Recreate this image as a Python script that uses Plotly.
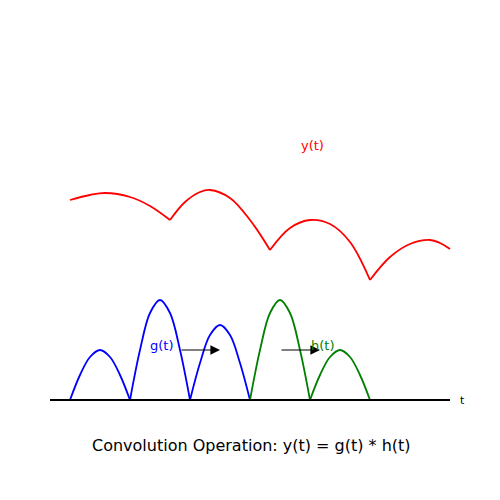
import plotly.graph_objects as go

# pixel-like coordinates: x = horizontal position, y = height above page bottom (500 - pixel y)
g_segments = [
    ([70, 80, 90, 100, 110, 120, 130], [100, 125, 143, 150, 143, 125, 100]),
    ([130, 140, 150, 160, 170, 180, 190], [100, 150, 187, 200, 187, 150, 100]),
    ([190, 200, 210, 220, 230, 240, 250], [100, 137, 165, 175, 165, 137, 100]),
]
h_segments = [
    ([250, 260, 270, 280, 290, 300, 310], [100, 150, 187, 200, 187, 150, 100]),
    ([310, 320, 330, 340, 350, 360, 370], [100, 125, 143, 150, 143, 125, 100]),
]
y_segments = [
    ([70, 90, 105, 130, 150, 170], [300, 305, 307, 303, 294, 280]),
    ([170, 185, 200, 210, 230, 250, 270], [280, 298, 308, 310, 302, 280, 250]),
    ([270, 290, 310, 330, 350, 370], [250, 272, 280, 276, 258, 220]),
    ([370, 390, 410, 430, 440, 450], [220, 243, 256, 260, 257, 251]),
]
baseline_x = [50, 450]
baseline_y = [100, 100]

fig = go.Figure()
for xs, ys in g_segments:
    fig.add_trace(go.Scatter(x=xs, y=ys, mode="lines", line=dict(color="blue", width=1.8, shape="spline")))
for xs, ys in h_segments:
    fig.add_trace(go.Scatter(x=xs, y=ys, mode="lines", line=dict(color="green", width=1.8, shape="spline")))
for xs, ys in y_segments:
    fig.add_trace(go.Scatter(x=xs, y=ys, mode="lines", line=dict(color="red", width=1.8, shape="spline")))
fig.add_trace(go.Scatter(x=baseline_x, y=baseline_y, mode="lines", line=dict(color="black", width=1.8)))

for x0, x1 in [(180, 220), (280, 320)]:
    fig.add_annotation(x=x1, y=150, ax=x0, ay=150, xref="x", yref="y", axref="x", ayref="y",
                       showarrow=True, arrowhead=2, arrowsize=1.6, arrowwidth=1.2, arrowcolor="black", text="")

texts = [
    (162, 155, "g(t)", "blue", 13),
    (322, 155, "h(t)", "green", 13),
    (312, 355, "y(t)", "red", 13),
    (462, 100, "t", "black", 11),
    (251, 55, "Convolution Operation: y(t) = g(t) * h(t)", "black", 16),
]
for x, y, t, c, s in texts:
    fig.add_annotation(x=x, y=y, text=t, showarrow=False, font=dict(color=c, size=s, family="DejaVu Sans"))

fig.update_layout(width=500, height=500, margin=dict(l=0, r=0, t=0, b=0), showlegend=False,
                  plot_bgcolor="white", paper_bgcolor="white",
                  xaxis=dict(range=[8, 508], visible=False),
                  yaxis=dict(range=[-8, 492], visible=False))
fig.write_html("out.html")
